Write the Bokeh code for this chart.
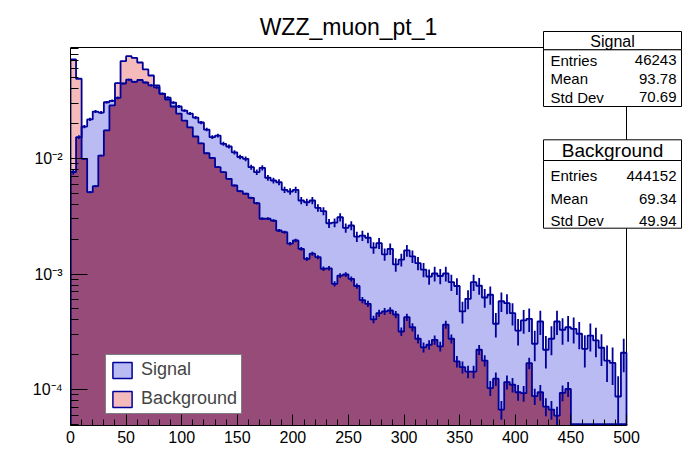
import math
import numpy as np
from bokeh.plotting import figure
from bokeh.models import (Range1d, FixedTicker, CustomJSTickFormatter, Label,
                          BoxAnnotation, Legend, LegendItem)
from bokeh.embed import file_html
from bokeh.resources import INLINE

# ---------------- data ----------------
chart_title = "WZZ_muon_pt_1"
bin_edges = [5 * i for i in range(101)]          # 100 bins, 0..500

signal = [0.00764, 0.0153, 0.0189, 0.0218, 0.0255, 0.0250, 0.0307, 0.0316, 0.0335, 0.0446,
          0.0481, 0.0461, 0.0478, 0.0455, 0.0429, 0.0412, 0.0363, 0.0337, 0.0305, 0.0282,
          0.0260, 0.0245, 0.0226, 0.0205, 0.0178, 0.0153, 0.0158, 0.0134, 0.0127, 0.0113,
          0.0103, 0.00994, 0.00841, 0.00761, 0.00831, 0.00681, 0.00645, 0.00623, 0.00536, 0.00518,
          0.00536, 0.00433, 0.00418, 0.00433, 0.00374, 0.00350, 0.00275, 0.00278, 0.00310, 0.00251,
          0.00263, 0.00211, 0.00215, 0.00206, 0.00169, 0.00185, 0.00148, 0.00165, 0.00121, 0.00133,
          0.00160, 0.00142, 0.00124, 0.00109, 0.000951, 0.00101, 0.000961, 0.00101, 0.000849, 0.000787,
          0.000474, 0.000610, 0.000849, 0.000791, 0.000626, 0.000661, 0.000371, 0.000581, 0.000559, 0.000458,
          0.000324, 0.000396, 0.000409, 0.000249, 0.000388, 0.000221, 0.000275, 0.000388, 0.000329, 0.000346,
          0.000335, 0.000304, 0.000225, 0.000293, 0.000266, 0.000230, 0.000178, 0.000170, 0.0000870, 0.000208]

background = [0.0720, 0.0490, 0.00994, 0.00511, 0.00576, 0.0106, 0.0175, 0.0288, 0.0449, 0.0696,
              0.0769, 0.0742, 0.0678, 0.0590, 0.0523, 0.0429, 0.0365, 0.0324, 0.0282, 0.0245,
              0.0213, 0.0186, 0.0155, 0.0135, 0.0111, 0.0101, 0.00841, 0.00761, 0.00667, 0.00584,
              0.00521, 0.00495, 0.00457, 0.00410, 0.00301, 0.00301, 0.00290, 0.00238, 0.00230, 0.00183,
              0.00195, 0.00165, 0.00135, 0.00150, 0.00140, 0.00111, 0.00112, 0.000823, 0.000970, 0.000990,
              0.000908, 0.000787, 0.000595, 0.000552, 0.000404, 0.000458, 0.000474, 0.000483, 0.000446, 0.000318,
              0.000423, 0.000346, 0.000275, 0.000232, 0.000244, 0.000269, 0.000236, 0.000365, 0.000275, 0.000175,
              0.000156, 0.000143, 0.000143, 0.000221, 0.000178, 0.000103, 0.000124, 0.0000671, 0.000116, 0.000110,
              0.0000947, 0.0000929, 0.000169, 0.0000875, 0.0000947, 0.0000712, 0.0000671, 0.0000595, 0.0000936, 0.000101,
              0, 0, 0, 0, 0, 0, 0, 0, 0, 0]

series_names = ["Signal", "Background"]
stat_labels = ["Entries", "Mean", "Std Dev"]
signal_stats = ["46243", "93.78", "70.69"]
background_stats = ["444152", "69.34", "49.94"]
signal_entries = 46243
background_entries = 444152

x_major_ticks = [0, 50, 100, 150, 200, 250, 300, 350, 400, 450, 500]
x_minor_ticks = [v for v in range(0, 501, 10) if v % 50 != 0]
y_major_ticks = [1e-4, 1e-3, 1e-2]

# ---------------- style / layout ----------------
FONT = "Liberation Sans"
LINE = "#00009a"
SIG_FILL = "#bbbbf4"
BG_FILL = "#f5bbbb"
BOTH_FILL = "#964b79"

W, H = 696, 472
X0, X1 = 0.0, 500.0           # histogram frame (ROOT frame)
Y0, Y1 = 4.88e-5, 0.0914
FL, FR, FT, FB = 70.0, 626.0, 47.0, 425.0   # ROOT frame edges in page pixels
FLOOR = 1e-7

y_minor_ticks = [k * 10.0 ** e for e in (-5, -4, -3, -2) for k in range(2, 10)
                 if Y0 <= k * 10.0 ** e <= Y1]

# Bokeh frame spans from FL to the right page edge and from the page top to FB,
# so that the title and statistics boxes (outside the ROOT frame) are not clipped.
x_per_px = (X1 - X0) / (FR - FL)
x_end = X1 + (W - FR) * x_per_px
dec_per_px = math.log10(Y1 / Y0) / (FB - FT)
y_end = 10 ** (math.log10(Y1) + FT * dec_per_px)


def sx(x):
    return x - FL


def sy(y):
    return FB - y


p = figure(width=W, height=H, title=None,
           x_range=Range1d(X0, x_end), y_range=Range1d(Y0, y_end),
           y_axis_type="log", output_backend="svg", toolbar_location=None,
           min_border_left=int(FL), min_border_right=0, min_border_top=0,
           min_border_bottom=int(H - FB))
p.background_fill_color = "white"
p.border_fill_color = "white"
p.outline_line_color = None
p.xgrid.visible = False
p.ygrid.visible = False

ax = p.xaxis[0]
ax.bounds = (X0, X1)
ax.ticker = FixedTicker(ticks=x_major_ticks, minor_ticks=x_minor_ticks)
ax.major_tick_in = 11
ax.major_tick_out = 0
ax.minor_tick_in = 6
ax.minor_tick_out = 0
ax.major_label_standoff = 5
ax.major_label_text_font = FONT
ax.major_label_text_font_size = "16px"
ax.major_label_text_color = "black"
ax.axis_line_color = "black"
ax.major_tick_line_color = "black"
ax.minor_tick_line_color = "black"

ay = p.yaxis[0]
ay.bounds = (Y0, Y1)
ay.ticker = FixedTicker(ticks=y_major_ticks, minor_ticks=y_minor_ticks)
ay.formatter = CustomJSTickFormatter(code="""
const e = Math.round(Math.log10(tick));
const m = {"0":"\u2070","1":"\u00b9","2":"\u00b2","3":"\u00b3","4":"\u2074","5":"\u2075",
           "6":"\u2076","7":"\u2077","8":"\u2078","9":"\u2079","-":"\u207b"};
return "10" + String(e).split("").map(c => m[c]).join("");
""")
ay.major_tick_in = 17
ay.major_tick_out = 0
ay.minor_tick_in = 8
ay.minor_tick_out = 0
ay.major_label_standoff = 8
ay.major_label_text_font = FONT
ay.major_label_text_font_size = "16px"
ay.major_label_text_color = "black"
ay.axis_line_color = "black"
ay.major_tick_line_color = "black"
ay.minor_tick_line_color = "black"


def outline(vals, floor, zero_level):
    xs = [bin_edges[0]]
    ys = [floor]
    for i, v in enumerate(vals):
        h = v if v > 0 else zero_level
        xs += [bin_edges[i], bin_edges[i + 1]]
        ys += [h, h]
    xs.append(bin_edges[-1])
    ys.append(floor)
    return xs, ys


both = list(np.minimum(np.array(signal), np.array(background)))

p.patch(*outline(background, FLOOR, FLOOR), fill_color=BG_FILL, line_color=None)
p.patch(*outline(signal, FLOOR, FLOOR), fill_color=SIG_FILL, line_color=None)
p.patch(*outline(both, FLOOR, FLOOR), fill_color=BOTH_FILL, line_color=None)

# top and right edges of the ROOT frame
p.line([X0, X1, X1], [Y1, Y1, Y0], line_color="black", line_width=1)

centers = [(bin_edges[i] + bin_edges[i + 1]) / 2 for i in range(len(bin_edges) - 1)]
for vals, n in ((background, background_entries), (signal, signal_entries)):
    xs, ys = outline(vals, Y0, Y0 * 1.025)
    p.line(xs, ys, line_color=LINE, line_width=1.8)
    cx, lo, hi = [], [], []
    for c, v in zip(centers, vals):
        if v > 0:
            e = math.sqrt(v / n)
            cx.append(c)
            lo.append(max(v - e, FLOOR))
            hi.append(v + e)
    p.segment(x0=cx, y0=lo, x1=cx, y1=hi, line_color=LINE, line_width=1.8)

# legend: hidden histogram quads carry the swatch style
r_sig = p.quad(left=bin_edges[:-1], right=bin_edges[1:], top=signal, bottom=FLOOR,
               fill_color=SIG_FILL, line_color=LINE, line_width=1.5, visible=False)
r_bg = p.quad(left=bin_edges[:-1], right=bin_edges[1:], top=background, bottom=FLOOR,
              fill_color=BG_FILL, line_color=LINE, line_width=1.5, visible=False)
legend = Legend(items=[LegendItem(label=series_names[0], renderers=[r_sig]),
                       LegendItem(label=series_names[1], renderers=[r_bg])],
                location=(35, 11), margin=0, padding=4, spacing=8,
                glyph_width=24, glyph_height=20, label_height=20, label_standoff=7,
                label_text_font=FONT, label_text_font_size="18px",
                border_line_color="black", border_line_width=1,
                background_fill_color="white", background_fill_alpha=1.0,
                inactive_fill_alpha=0.0, click_policy="none")
p.add_layout(legend)

# title
p.add_layout(Label(x=sx(348), y=sy(26), x_units="screen", y_units="screen", text=chart_title,
                   text_font=FONT, text_font_size="23px", text_align="center",
                   text_baseline="alphabetic", text_color="black"))


def stat_box(top, sep, bottom, name, name_size, values, rows_y):
    for t, b in ((top, sep), (sep, bottom)):
        p.add_layout(BoxAnnotation(left=sx(543), right=sx(681), top=sy(t), bottom=sy(b),
                                   left_units="screen", right_units="screen",
                                   top_units="screen", bottom_units="screen",
                                   fill_color="white", fill_alpha=1.0,
                                   line_color="black", line_width=1, line_alpha=1.0))
    p.add_layout(Label(x=sx(612), y=sy((top + sep) / 2 + 0.5), x_units="screen", y_units="screen",
                       text=name, text_font=FONT, text_font_size=name_size,
                       text_align="center", text_baseline="middle", text_color="black"))
    for lab, val, yy in zip(stat_labels, values, rows_y):
        p.add_layout(Label(x=sx(550), y=sy(yy), x_units="screen", y_units="screen", text=lab,
                           text_font=FONT, text_font_size="15px", text_align="left",
                           text_baseline="middle", text_color="black"))
        p.add_layout(Label(x=sx(676), y=sy(yy), x_units="screen", y_units="screen", text=val,
                           text_font=FONT, text_font_size="15px", text_align="right",
                           text_baseline="middle", text_color="black"))


stat_box(31, 49.3, 106, series_names[0], "16px", signal_stats, [59.5, 78, 96.5])
stat_box(139.3, 160, 227.7, series_names[1], "19px", background_stats, [175, 198, 220])

open("out.html", "w", encoding="utf-8").write(file_html(p, INLINE))
